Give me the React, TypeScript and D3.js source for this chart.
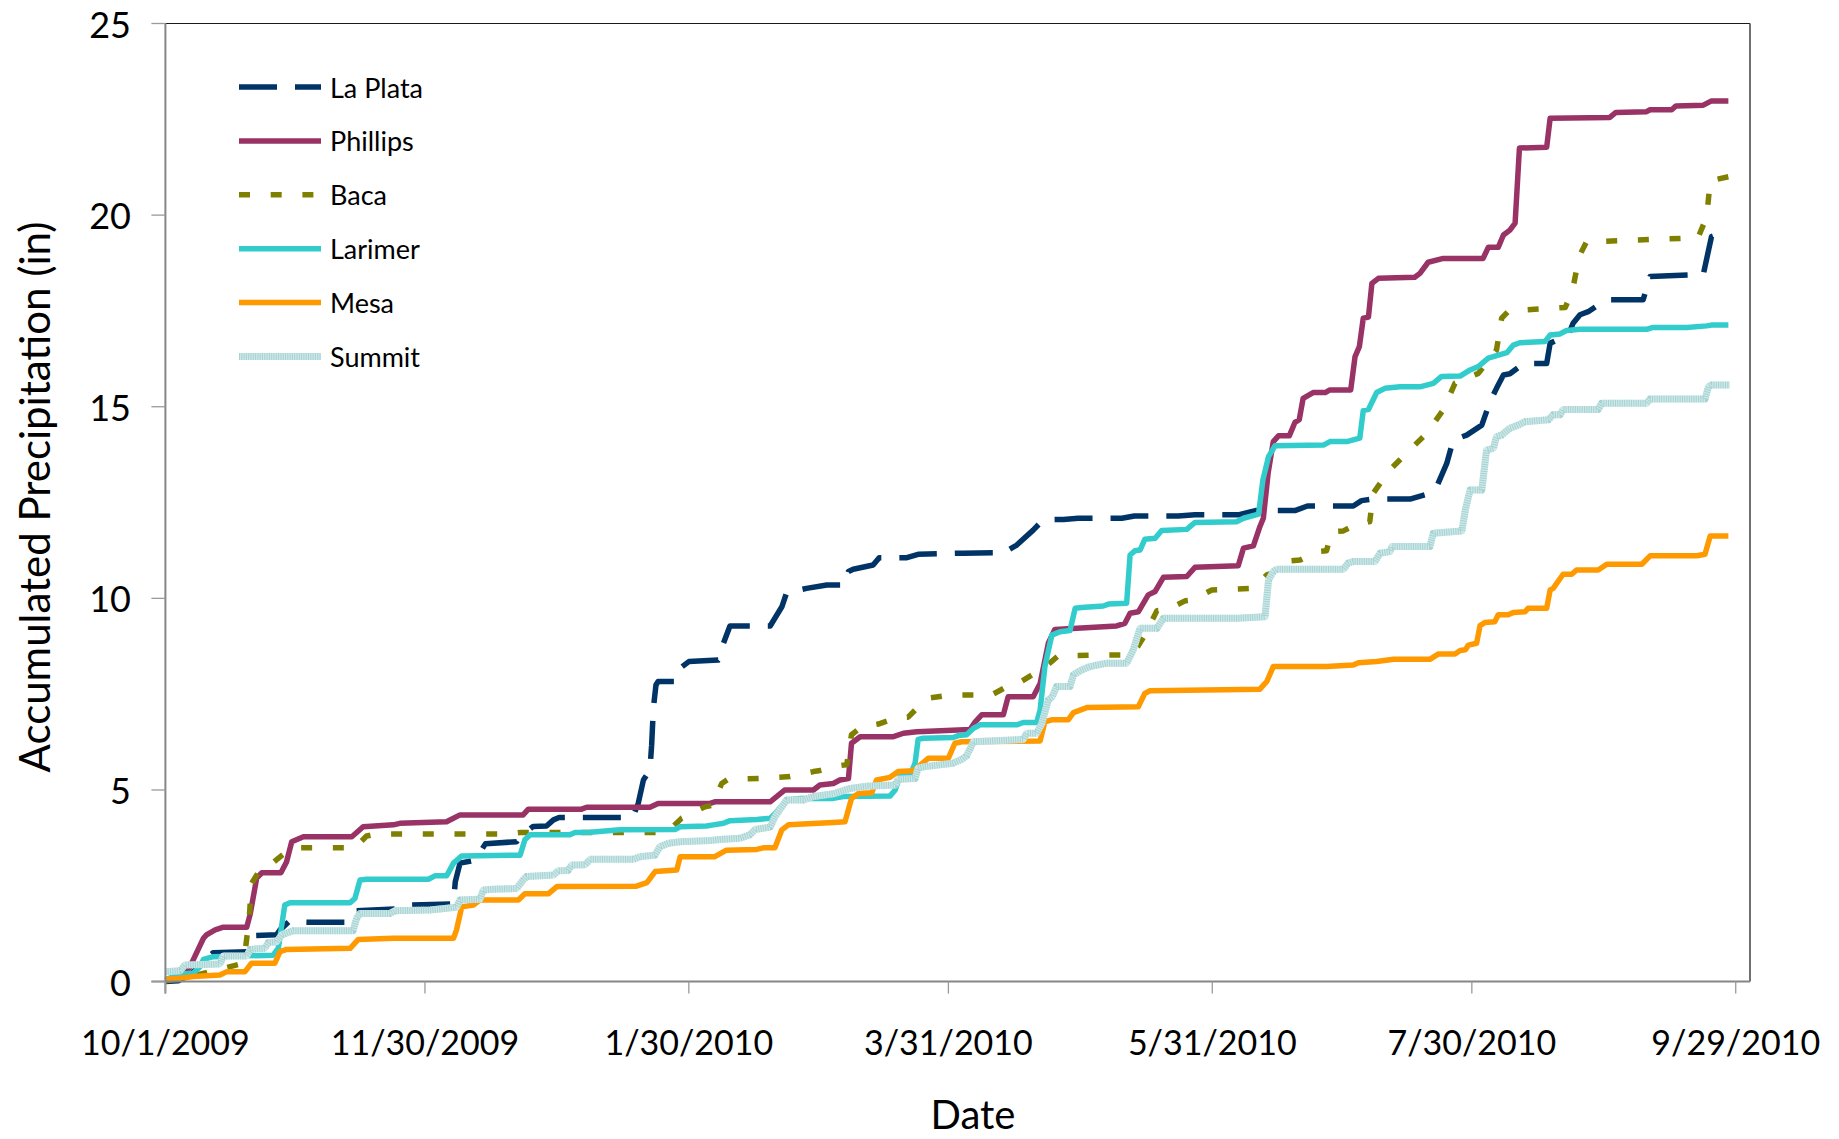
import React from "react";
import * as d3 from "d3";

// ---------- data (day offset from 10/1/2009, accumulated inches) ----------
const tickLabels = ["10/1/2009", "11/30/2009", "1/30/2010", "3/31/2010", "5/31/2010", "7/30/2010", "9/29/2010"];
const yTicks = [0, 5, 10, 15, 20, 25];
const seriesNames = ["La Plata", "Phillips", "Baca", "Larimer", "Mesa", "Summit"];

const laPlata: [number, number][] = [
  [0, 0], [3, 0.02], [6, 0.2], [9, 0.55], [11, 0.75], [19, 0.78], [20.5, 1.2], [25.7, 1.22], [26.5, 1.35], [28.5, 1.56],
  [33, 1.55], [42, 1.55], [44, 1.85], [53.5, 1.9], [57, 2.0], [66.6, 2.03], [67, 2.6], [68.1, 3.09], [71.6, 3.17], [74, 3.6],
  [81.2, 3.65], [82, 3.78], [85, 4.05], [88.1, 4.06], [89.7, 4.22], [91, 4.28], [108, 4.28], [109.3, 4.65], [110.5, 5.26], [112, 5.52],
  [112.4, 6.17], [112.8, 7.13], [113.4, 7.74], [113.9, 7.83], [117.8, 7.83], [119, 8.18], [121, 8.35], [127.8, 8.39], [128.2, 8.44], [129, 8.83],
  [130.5, 9.28], [139.8, 9.28], [142.5, 9.78], [143.6, 10.15], [148.2, 10.26], [152.9, 10.35], [157.1, 10.35], [157.9, 10.7], [159, 10.76], [163.6, 10.87],
  [165, 11.06], [171.4, 11.06], [174, 11.15], [184.4, 11.18], [193.7, 11.19], [196.8, 11.39], [200.6, 11.78], [202.9, 12.05], [207.6, 12.06], [211, 12.09],
  [221.1, 12.09], [224, 12.15], [234.1, 12.15], [238, 12.18], [248, 12.18], [252, 12.29], [261.1, 12.29], [264, 12.41], [274.6, 12.41], [276.5, 12.55],
  [279, 12.59], [287.7, 12.59], [292.3, 12.74], [293.9, 12.92], [296.2, 13.52], [297.7, 14.13], [300.8, 14.26], [304.3, 14.52], [306.2, 15.13], [307.7, 15.48],
  [309.3, 15.83], [310.8, 15.86], [314, 16.13], [319.3, 16.13], [320.1, 16.66], [324.3, 16.87], [325.4, 17.18], [327, 17.4], [328.9, 17.48], [333, 17.79],
  [341.6, 17.79], [343.2, 18.4], [355.5, 18.45], [357.4, 19.44], [361.3, 19.6],
];

const phillips: [number, number][] = [
  [0, 0.02], [3.4, 0.15], [5.5, 0.35], [6.4, 0.56], [8.8, 1.13], [9.5, 1.22], [11.5, 1.35], [13.4, 1.42], [18.8, 1.42], [19.6, 1.76],
  [21.1, 2.7], [22.3, 2.84], [26.7, 2.84], [28.0, 3.12], [29.2, 3.65], [31.9, 3.78], [43.1, 3.78], [45.7, 4.04], [52.7, 4.09], [54.2, 4.13],
  [65.0, 4.17], [68.1, 4.35], [82.7, 4.35], [83.9, 4.5], [96.2, 4.5], [97.4, 4.55], [112, 4.55], [113.9, 4.65], [125.9, 4.65], [127, 4.69],
  [139.8, 4.69], [143.2, 5.0], [149.8, 5.0], [151.3, 5.13], [154.4, 5.17], [155.9, 5.26], [157.9, 5.3], [158.6, 6.22], [160.6, 6.39], [168.3, 6.39],
  [170.6, 6.48], [173.7, 6.52], [186, 6.58], [187.2, 6.78], [188.7, 6.96], [193.7, 6.96], [194.8, 7.43], [200.6, 7.43], [202.2, 7.78], [204.1, 8.83],
  [205.6, 9.19], [219.9, 9.28], [221.8, 9.35], [223, 9.61], [224.9, 9.65], [227.2, 10.09], [228.8, 10.18], [230.7, 10.55], [236.1, 10.57], [238, 10.81],
  [248, 10.85], [249.2, 11.31], [251.5, 11.37], [253, 11.87], [253.8, 12.09], [254.9, 13.26], [256.1, 14.09], [257.3, 14.24], [259.8, 14.24], [261.1, 14.59],
  [262.1, 14.66], [263, 15.22], [265.3, 15.37], [268.1, 15.37], [269.2, 15.44], [274, 15.44], [275, 16.31], [276, 16.57], [276.9, 17.31], [278.1, 17.34],
  [278.9, 18.22], [280.4, 18.35], [288.8, 18.38], [290, 18.48], [291.9, 18.77], [295.4, 18.87], [304.6, 18.87], [305.8, 19.16], [308.1, 19.16], [309.3, 19.48],
  [310.8, 19.61], [312, 19.79], [313, 21.75], [319.3, 21.77], [320.1, 22.53], [333.9, 22.55], [335.3, 22.68], [342.4, 22.7], [343.2, 22.75], [348.2, 22.75],
  [349.2, 22.85], [355.5, 22.87], [357.4, 22.98], [361.3, 22.98],
];

const baca: [number, number][] = [
  [0, 0.02], [5, 0.1], [10, 0.25], [17, 0.45], [18.5, 0.85], [19.4, 1.69], [19.9, 2.56], [21.5, 2.85], [24.2, 3.04], [27, 3.3],
  [29.2, 3.49], [43.8, 3.49], [46.5, 3.8], [48.8, 3.85], [78.9, 3.85], [82, 3.89], [113.9, 3.89], [116.5, 3.95], [119.3, 4.26], [124.7, 4.56],
  [126.5, 4.6], [128.6, 5.17], [130.1, 5.28], [137.4, 5.3], [142, 5.33], [144.4, 5.35], [149.8, 5.48], [151, 5.5], [155.5, 5.63], [157.5, 5.66],
  [158.6, 6.44], [161, 6.65], [164.8, 6.72], [169.4, 6.9], [171.7, 6.9], [175.6, 7.35], [176.7, 7.4], [181.4, 7.48], [191, 7.48], [195.2, 7.74],
  [196.8, 7.76], [201, 8.05], [202.5, 8.13], [206.4, 8.5], [216.4, 8.52], [222.5, 8.52], [224, 8.6], [226.4, 9.04], [229.2, 9.68], [231.5, 9.7],
  [235.8, 9.94], [237.4, 9.96], [241.9, 10.22], [251.5, 10.26], [254.6, 10.61], [255.7, 10.65], [260, 10.98], [262.3, 11.0], [266.1, 11.22], [268.4, 11.24],
  [269.6, 11.74], [272.3, 11.76], [276.1, 11.98], [278.4, 12.0], [279.2, 12.74], [282.7, 13.31], [286.9, 13.79], [291.6, 14.31], [295.4, 14.92], [298.1, 15.61],
  [303.5, 15.87], [307.7, 16.48], [308.9, 17.31], [310.5, 17.5], [323.6, 17.59], [325.3, 18.05], [326.8, 18.92], [328.5, 19.3], [354.3, 19.41], [356.3, 19.96],
  [357.1, 20.9], [361.3, 21.0],
];

const larimer: [number, number][] = [
  [0, 0.05], [3.8, 0.2], [6.4, 0.22], [8, 0.39], [8.8, 0.58], [11.1, 0.65], [24.9, 0.69], [26.1, 0.87], [27.6, 2.0], [28.8, 2.06],
  [42.7, 2.06], [43.8, 2.17], [45, 2.65], [46.5, 2.67], [60.8, 2.67], [62.3, 2.76], [65, 2.76], [66.6, 3.09], [68.5, 3.28], [82, 3.3],
  [83.1, 3.7], [84.3, 3.83], [93.5, 3.83], [94.7, 3.89], [98.2, 3.9], [105.1, 3.96], [117.8, 3.97], [119, 4.04], [125.1, 4.06], [126.7, 4.09],
  [129, 4.13], [130.5, 4.2], [136.7, 4.23], [139.8, 4.26], [141.3, 4.43], [143.6, 4.74], [146.7, 4.78], [154.4, 4.78], [156.7, 4.83], [167.5, 4.84],
  [168.7, 5.0], [169.8, 5.37], [172.1, 5.37], [173.3, 5.7], [174, 6.32], [175.2, 6.35], [182.1, 6.37], [183.3, 6.42], [185.2, 6.44], [186.8, 6.61],
  [188.3, 6.7], [196.8, 6.7], [198.3, 6.76], [201.4, 6.76], [202.2, 7.09], [203.3, 8.22], [204.9, 9.04], [206.8, 9.13], [209.1, 9.16], [210.3, 9.74],
  [211.8, 9.76], [216.8, 9.8], [218, 9.85], [222.2, 9.87], [223, 11.13], [224.1, 11.24], [225.3, 11.26], [226.4, 11.54], [228.8, 11.57], [230.3, 11.77],
  [236.1, 11.8], [238, 11.98], [247.6, 12.0], [249.2, 12.09], [252.7, 12.2], [253.7, 13.09], [255, 13.7], [256.5, 13.98], [267.7, 14.0], [269.2, 14.09],
  [273.1, 14.09], [276.1, 14.18], [276.9, 14.9], [278.1, 14.93], [280, 15.37], [281.9, 15.48], [285.4, 15.52], [290, 15.52], [293.1, 15.61], [295, 15.79],
  [299.3, 15.8], [301.6, 15.96], [303.5, 16.05], [305.8, 16.27], [310.1, 16.41], [311.6, 16.61], [313.1, 16.67], [318.9, 16.7], [320.1, 16.87], [322.4, 16.9],
  [323.9, 16.99], [327, 17.02], [342.4, 17.02], [343.9, 17.07], [351.7, 17.07], [356.3, 17.11], [357.4, 17.13], [361.3, 17.13],
];

const mesa: [number, number][] = [
  [0, 0.06], [3.4, 0.09], [6.4, 0.13], [12.6, 0.17], [14.2, 0.26], [18.4, 0.26], [19.9, 0.48], [25.3, 0.48], [26.5, 0.78], [28, 0.84],
  [42.7, 0.87], [44.6, 1.1], [52.7, 1.13], [66.6, 1.13], [67.3, 1.35], [68.5, 1.95], [71.2, 2.0], [72.7, 2.13], [81.6, 2.13], [83.1, 2.29],
  [88.5, 2.29], [90.5, 2.48], [108.9, 2.49], [111.3, 2.58], [113.2, 2.87], [118.2, 2.91], [119, 3.26], [127, 3.26], [129.7, 3.43], [136.7, 3.45],
  [138.2, 3.49], [140.9, 3.49], [142.5, 3.96], [144, 4.09], [154.4, 4.15], [157.1, 4.17], [158.6, 4.78], [160.2, 4.91], [163.3, 4.93], [164.4, 5.26],
  [167.5, 5.33], [169.4, 5.48], [172.9, 5.5], [176.4, 5.83], [181, 5.83], [182.5, 6.22], [184.1, 6.26], [202.2, 6.28], [203.3, 6.78], [204.9, 6.83],
  [208.7, 6.83], [209.9, 7.02], [213, 7.15], [224.9, 7.17], [226.4, 7.52], [227.6, 7.59], [253, 7.63], [254.6, 7.83], [256.1, 8.22], [268.4, 8.22],
  [274.6, 8.26], [275.8, 8.32], [280, 8.35], [283.9, 8.41], [292.3, 8.41], [294.3, 8.55], [298.1, 8.55], [299.3, 8.64], [300.5, 8.66], [301.2, 8.78],
  [303.1, 8.83], [303.9, 9.29], [305, 9.37], [307.3, 9.39], [308.1, 9.57], [310.4, 9.57], [311.6, 9.63], [314.3, 9.65], [315, 9.74], [319.3, 9.74],
  [320.1, 10.22], [320.8, 10.26], [323.1, 10.63], [325.1, 10.63], [326.2, 10.74], [331.2, 10.74], [333.2, 10.89], [341.3, 10.89], [343.2, 11.11], [354, 11.11],
  [355.9, 11.15], [357.1, 11.63], [361.3, 11.63],
];

const summit: [number, number][] = [
  [0, 0.26], [3.4, 0.28], [4.5, 0.43], [12.6, 0.46], [13.4, 0.67], [18.8, 0.67], [19.6, 0.84], [23, 0.87], [23.8, 1.02], [25.7, 1.04],
  [26.9, 1.22], [29.6, 1.33], [43.4, 1.33], [44.2, 1.65], [45, 1.78], [51.9, 1.78], [53.1, 1.85], [61.2, 1.87], [67.3, 1.94], [68.1, 2.13],
  [72.7, 2.15], [73.5, 2.39], [75.8, 2.41], [81.2, 2.43], [82.7, 2.65], [83.5, 2.74], [89.7, 2.78], [90.8, 2.89], [93.1, 2.9], [93.9, 3.04],
  [97, 3.05], [98.2, 3.19], [108.2, 3.19], [109.7, 3.26], [113.2, 3.3], [114.3, 3.52], [116.3, 3.61], [119, 3.65], [125.9, 3.68], [128.2, 3.71],
  [132.8, 3.74], [135.1, 3.83], [136.3, 3.97], [139.8, 4.03], [140.9, 4.3], [142.5, 4.56], [143.6, 4.74], [147.5, 4.74], [149.8, 4.83], [154.4, 4.9],
  [158.3, 5.04], [162.1, 5.1], [168.7, 5.13], [169.4, 5.28], [173.3, 5.3], [174, 5.57], [175.6, 5.61], [182.1, 5.7], [184.1, 5.8], [185.2, 5.89],
  [186.8, 6.26], [198.3, 6.32], [199.1, 6.48], [201.4, 6.48], [202.6, 6.74], [204.1, 7.35], [205, 7.43], [206, 7.7], [209.1, 7.7], [209.9, 8.0],
  [211.4, 8.11], [213.7, 8.22], [217.6, 8.31], [222.2, 8.31], [223.7, 8.65], [225.3, 9.22], [229.2, 9.22], [230.7, 9.48], [247.6, 9.48], [254.2, 9.52],
  [255, 10.48], [256.1, 10.7], [256.9, 10.76], [272.3, 10.76], [273.4, 10.92], [274.6, 10.96], [279.6, 10.96], [280.8, 11.18], [283.1, 11.22], [283.5, 11.35],
  [292.3, 11.35], [293.1, 11.7], [299.7, 11.76], [300.5, 12.31], [301.6, 12.83], [304.3, 12.83], [305.4, 13.87], [307, 13.92], [307.7, 14.22], [308.9, 14.26],
  [310.8, 14.44], [312.7, 14.52], [314.3, 14.61], [319.7, 14.66], [320.8, 14.79], [322.4, 14.79], [323.1, 14.93], [331.2, 14.93], [332, 15.09], [342.4, 15.09],
  [343.2, 15.2], [355.9, 15.2], [356.7, 15.52], [357.4, 15.57], [361.6, 15.57],
];

const seriesData = [laPlata, phillips, baca, larimer, mesa, summit];

// ---------- styling ----------
const styles = [
  { color: "#003366", width: 5.5, dash: "38,18" },
  { color: "#993366", width: 5.5, dash: "" },
  { color: "#808000", width: 5.5, dash: "11,20.7" },
  { color: "#33CCCC", width: 5.5, dash: "" },
  { color: "#FF9900", width: 5.5, dash: "" },
  { color: "#cde8e8", width: 7, dash: "", hatch: "#a6d2d2" },
];

const W = 1839;
const H = 1139;
const left = 165.4;
const right = 1750;
const top = 23.5;
const bottom = 981.6;
const FONT = "Lato, 'Open Sans', sans-serif";

const startDate = Date.UTC(2009, 9, 1);
function dayOf(label: string): number {
  const [m, d, y] = label.split("/").map(Number);
  return d3.utcDay.count(new Date(startDate), new Date(Date.UTC(y, m - 1, d)));
}

export default function App() {
  const x = d3.scaleLinear().domain([0, 366.3]).range([left, right]);
  const y = d3.scaleLinear().domain([0, 25]).range([bottom, top]);
  const line = d3
    .line<[number, number]>()
    .x((d) => x(d[0]))
    .y((d) => y(d[1]));

  const legendX1 = 239;
  const legendX2 = 321;
  const legendY0 = 87;
  const legendStep = 53.9;

  return (
    <svg
      width={W}
      height={H}
      viewBox={`0 0 ${W} ${H}`}
      style={{ position: "absolute", left: 0, top: 0, display: "block", background: "#fff" }}
    >
      <rect x={0} y={0} width={W} height={H} fill="#fff" />
      {/* frame */}
      <line x1={left} x2={right} y1={top} y2={top} stroke="#1a1a1a" strokeWidth={1.2} />
      <line x1={right} x2={right} y1={top} y2={bottom} stroke="#404040" strokeWidth={1.5} />

      {/* series */}
      {seriesData.map((data, i) => {
        const s = styles[i];
        return (
          <g key={seriesNames[i]}>
            <path
              d={line(data) || ""}
              fill="none"
              stroke={s.color}
              strokeWidth={s.width}
              strokeDasharray={s.dash || undefined}
              strokeLinejoin="round"
            />
            {s.hatch && (
              <path
                d={line(data) || ""}
                fill="none"
                stroke={s.hatch}
                strokeWidth={s.width}
                strokeDasharray="1,1.3"
                strokeLinejoin="round"
              />
            )}
          </g>
        );
      })}

      {/* axes */}
      <line x1={left} x2={left} y1={top} y2={bottom + 12} stroke="#868686" strokeWidth={2} />
      <line x1={left - 14} x2={right} y1={bottom} y2={bottom} stroke="#868686" strokeWidth={2} />
      {yTicks.map((t) => (
        <g key={`y${t}`}>
          <line x1={left - 14} x2={left} y1={y(t)} y2={y(t)} stroke="#9a9a9a" strokeWidth={1.3} />
          <text
            x={131}
            y={y(t)}
            textAnchor="end"
            dominantBaseline="central"
            fontFamily={FONT}
            fontSize={36}
            fill="#000"
          >
            {t}
          </text>
        </g>
      ))}
      {tickLabels.map((lab) => {
        const xx = x(dayOf(lab));
        return (
          <g key={lab}>
            <line x1={xx} x2={xx} y1={bottom} y2={bottom + 12} stroke="#9a9a9a" strokeWidth={1.3} />
            <text
              x={xx}
              y={1041}
              textAnchor="middle"
              dominantBaseline="central"
              fontFamily={FONT}
              fontSize={34}
              fill="#000"
            >
              {lab}
            </text>
          </g>
        );
      })}

      {/* titles */}
      <text x={973} y={1129} textAnchor="middle" fontFamily={FONT} fontSize={40} fill="#000">
        Date
      </text>
      <text
        transform={`translate(34,497) rotate(-90)`}
        textAnchor="middle"
        dominantBaseline="central"
        fontFamily={FONT}
        fontSize={42}
        fill="#000"
      >
        Accumulated Precipitation (in)
      </text>

      {/* legend */}
      {seriesNames.map((name, i) => {
        const s = styles[i];
        const ly = legendY0 + i * legendStep;
        return (
          <g key={`lg${name}`}>
            <line
              x1={legendX1}
              x2={legendX2}
              y1={ly}
              y2={ly}
              stroke={s.color}
              strokeWidth={s.width}
              strokeDasharray={s.dash || undefined}
            />
            {s.hatch && (
              <line x1={legendX1} x2={legendX2} y1={ly} y2={ly} stroke={s.hatch} strokeWidth={s.width} strokeDasharray="1,1.3" />
            )}
            <text x={330} y={ly} dominantBaseline="central" fontFamily={FONT} fontSize={27} fill="#000">
              {name}
            </text>
          </g>
        );
      })}
    </svg>
  );
}
